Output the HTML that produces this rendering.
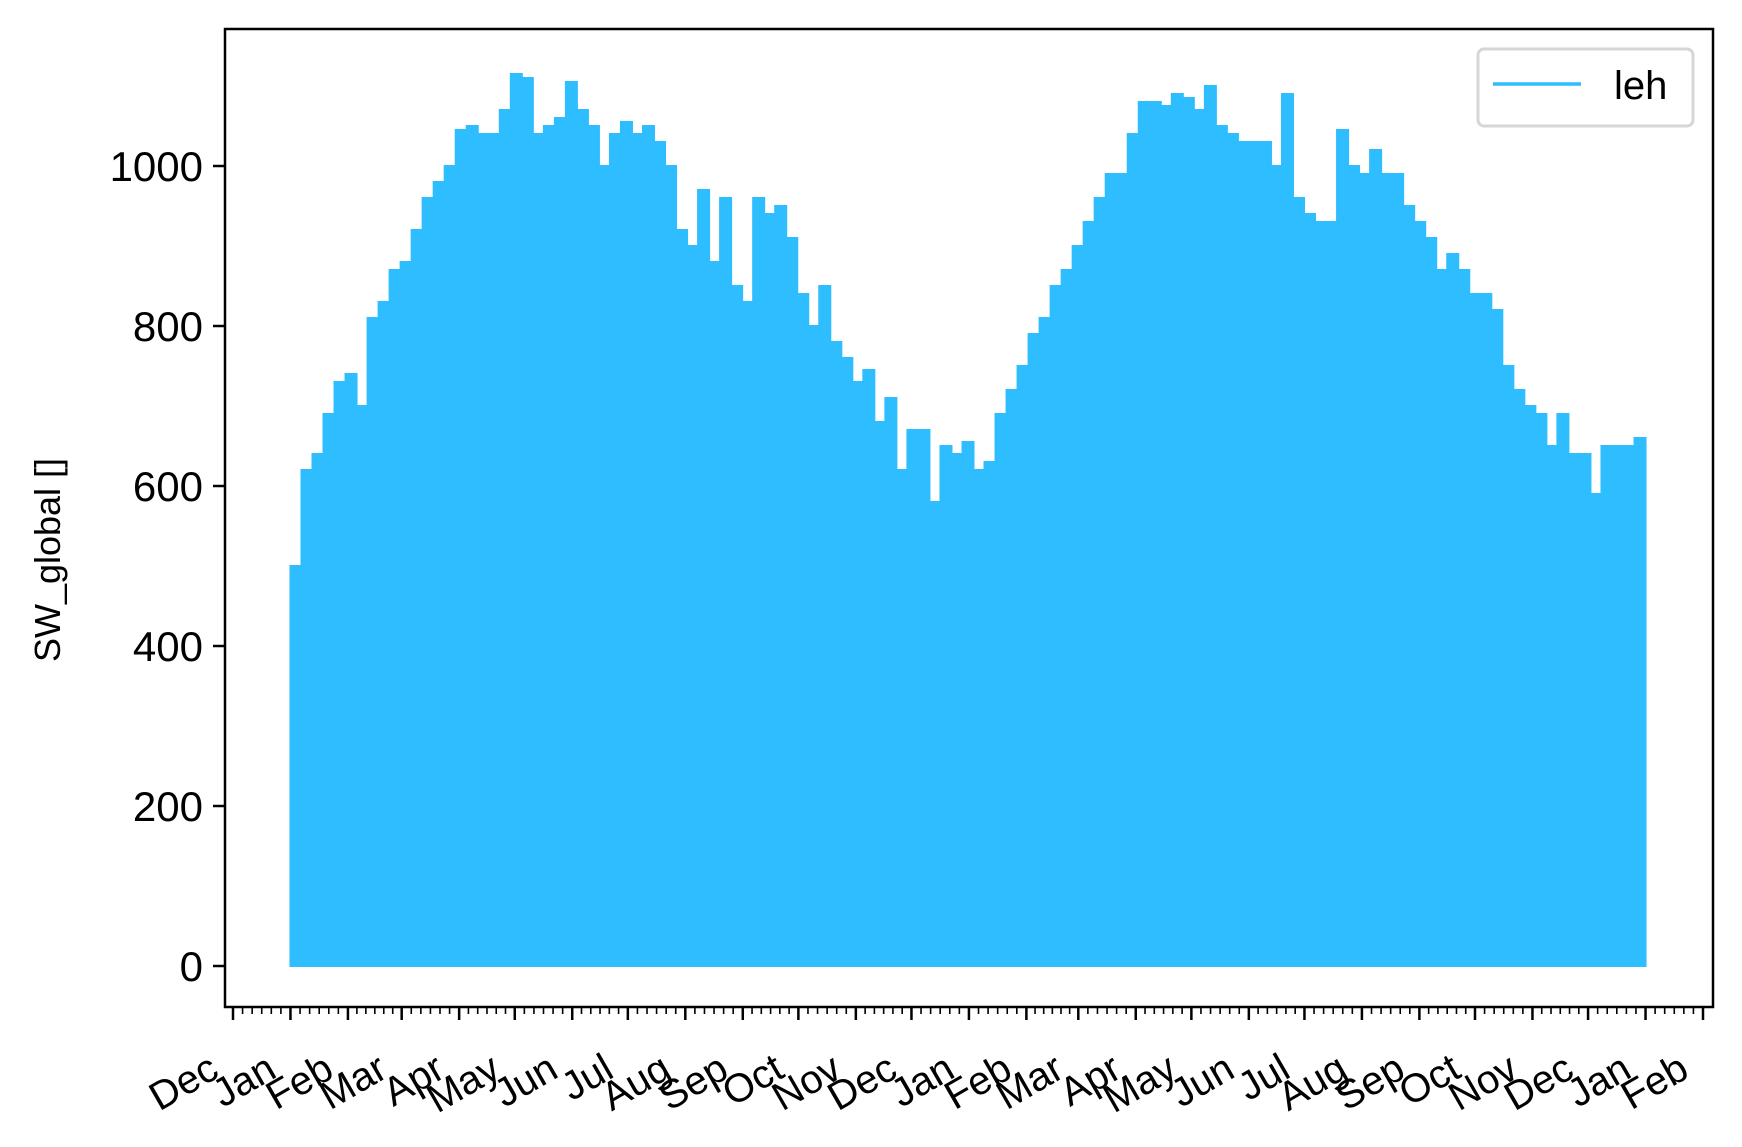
<!DOCTYPE html>
<html><head><meta charset="utf-8"><style>
html,body{margin:0;padding:0;background:#fff;}
svg{display:block;font-family:"Liberation Sans","DejaVu Sans",sans-serif;}
</style></head><body>
<svg id="chart" width="1742" height="1147" viewBox="0 0 1742 1147" xmlns="http://www.w3.org/2000/svg">
<rect x="0" y="0" width="1742" height="1147" fill="#fff"/>
<g id="plot"></g>
<g id="yaxis"></g>
<g id="xaxis"></g>
<rect x="225" y="29" width="1488" height="978" fill="none" stroke="#000" stroke-width="2.5"/>
<text x="0" y="0" transform="translate(60,560) rotate(-90)" text-anchor="middle" font-size="36">SW_global []</text>
<g>
<rect x="1478" y="49" width="215" height="77" rx="6" fill="#fff" stroke="#d6d6d6" stroke-width="3"/>
<line x1="1493" y1="84" x2="1581" y2="84" stroke="#2ebdfe" stroke-width="3.5"/>
<text x="1614" y="99" font-size="40">leh</text>
</g>
</svg>
<script>
const months = ["Dec","Jan","Feb","Mar","Apr","May","Jun","Jul","Aug","Sep","Oct","Nov","Dec","Jan","Feb","Mar","Apr","May","Jun","Jul","Aug","Sep","Oct","Nov","Dec","Jan","Feb"];
const monthDays = [31,31,29,31,30,31,30,31,31,30,31,30,31,31,28,31,30,31,30,31,31,30,31,30,31,31];
const yTicks = [0,200,400,600,800,1000];
const peaks = [500,620,640,690,730,740,700,810,830,870,880,920,960,980,1000,1045,1050,1040,1040,1070,1115,1110,1040,1050,1060,1105,1070,1050,1000,1040,1055,1040,1050,1030,1000,920,900,970,880,960,850,830,960,940,950,910,840,800,850,780,760,730,745,680,710,620,670,670,580,650,640,655,620,630,690,720,750,790,810,850,870,900,930,960,990,990,1040,1080,1080,1075,1090,1085,1070,1100,1050,1040,1030,1030,1030,1000,1090,960,940,930,930,1045,1000,990,1020,990,990,950,930,910,870,890,870,840,840,820,750,720,700,690,650,690,640,640,590,650,650,650,660];
const dataStartDay = 31, dataEndDay = 762;
const NS = "http://www.w3.org/2000/svg";
const totalDays = monthDays.reduce((a,b)=>a+b,0);
const X0 = 233, X1 = 1703;
function xScale(d){ return X0 + (X1-X0)*d/totalDays; }
function yScale(v){ return 966 - v*0.8; }
function mk(tag, attrs, parent){ const e=document.createElementNS(NS,tag); for(const k in attrs) e.setAttribute(k,attrs[k]); parent.appendChild(e); return e; }
const plot=document.getElementById('plot'), ya=document.getElementById('yaxis'), xa=document.getElementById('xaxis');
let d = "M"+xScale(dataStartDay)+","+yScale(0);
const n = peaks.length, span = (dataEndDay-dataStartDay)/n;
for(let i=0;i<n;i++){
  const xa0 = xScale(dataStartDay+i*span), xa1 = xScale(dataStartDay+(i+1)*span);
  d += " L"+xa0+","+yScale(peaks[i])+" L"+xa1+","+yScale(peaks[i]);
}
d += " L"+xScale(dataEndDay)+","+yScale(0)+" Z";
const area = mk('path',{d:d,fill:"#2ebdfe",stroke:"#2ebdfe","stroke-width":"2"},plot);


yTicks.forEach(v=>{
  const y=yScale(v);
  const t=mk('line',{x1:213,y1:y,x2:225,y2:y,stroke:"#000","stroke-width":"2.5"},ya);
  
  
  const l=mk('text',{x:203,y:y+15,"text-anchor":"end","font-size":"42"},ya);
  
  
  l.textContent=v;
});
let day=0;
months.forEach((m,i)=>{
  const x=xScale(day);
  const t=mk('line',{x1:x,y1:1007,x2:x,y2:1020,stroke:"#000","stroke-width":"2.5"},xa);
  
  
  const l=mk('text',{x:0,y:0,"text-anchor":"end","font-size":"40",transform:"translate("+(x-12)+",1076) rotate(-30)"},xa);
  
  
  l.textContent=m;
  if(i<monthDays.length){
    for(let k=1;k<6;k++){
      const mx=xScale(day+monthDays[i]*k/6);
      const mt=mk('line',{x1:mx,y1:1007,x2:mx,y2:1014,stroke:"#000","stroke-width":"1.6"},xa);
      
      
    }
    day+=monthDays[i];
  }
});
</script>
</body></html>
